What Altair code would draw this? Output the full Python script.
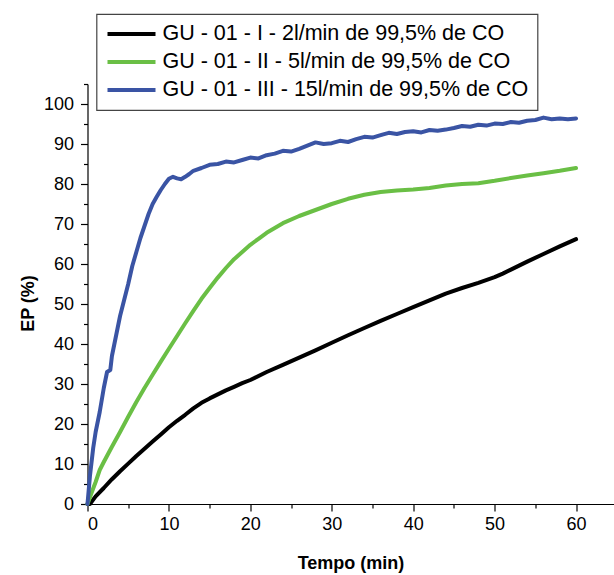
import altair as alt
import pandas as pd

LABELS = [
    "GU - 01 - I - 2l/min de 99,5% de CO",
    "GU - 01 - II - 5l/min de 99,5% de CO",
    "GU - 01 - III - 15l/min de 99,5% de CO",
]
COLORS = ["#000000", "#6abf45", "#3a54a4"]

# Serie I (2 l/min)
t_i = [0, 0.3, 1, 2, 3, 4, 5, 6, 7, 8, 9, 10, 11, 12, 13, 14, 15, 16, 17, 18, 19, 20,
       22, 24, 26, 28, 30, 32, 34, 36, 38, 40, 42, 44, 46, 48, 50, 51, 52, 54, 56, 58, 60]
ep_i = [0, 0, 1.9, 4, 6.2, 8.2, 10.1, 12, 13.8, 15.6, 17.4, 19.2, 20.8, 22.3, 23.9, 25.3, 26.4, 27.4, 28.4, 29.3, 30.2, 31,
        33, 34.8, 36.6, 38.4, 40.3, 42.2, 44, 45.8, 47.5, 49.2, 50.9, 52.6, 54, 55.3, 56.7, 57.6, 58.6, 60.6, 62.5, 64.4, 66.2]

# Serie II (5 l/min)
t_ii = [0, 0.5, 1, 1.5, 2, 3, 4, 5, 6, 7, 8, 9, 10, 11, 12, 13, 14, 15, 16, 17, 18, 19, 20,
        21, 22, 23, 24, 26, 28, 30, 32, 34, 36, 38, 40, 42, 44, 46, 48, 50, 52, 54, 56, 58, 60]
ep_ii = [0, 2.8, 5.5, 8.5, 10.5, 14.3, 18, 21.8, 25.5, 29, 32.3, 35.6, 38.8, 42, 45.2, 48.3, 51.3, 54, 56.6, 59, 61.2, 63, 64.8,
         66.3, 67.8, 69, 70.2, 72, 73.5, 75, 76.3, 77.3, 78, 78.4, 78.6, 79, 79.6, 80, 80.2, 80.8, 81.5, 82.1, 82.7, 83.3, 84]

# Serie III (15 l/min)
t_iii = [0, 0.3, 0.7, 1, 1.5, 2, 2.4, 2.8, 3, 3.5, 4, 4.5, 5, 5.5, 6, 6.5, 7, 7.5, 8, 8.5, 9, 9.5, 10,
         10.5, 11, 11.5, 12, 12.5, 13, 14, 15, 16, 17, 18, 19, 20, 21, 22, 23, 24, 25, 26, 27, 28, 29,
         30, 31, 32, 33, 34, 35, 36, 37, 38, 39, 40, 41, 42, 43, 44, 45, 46, 47, 48, 49, 50, 51, 52,
         53, 54, 55, 56, 57, 58, 59, 60]
ep_iii = [0, 7, 14, 18, 23, 29, 33, 33.5, 37, 42, 47, 51, 55, 59.5, 63, 66.5, 69.5, 72.5, 75, 76.8, 78.5, 80, 81.3,
          81.8, 81.4, 81.2, 81.8, 82.5, 83.3, 84, 84.8, 85, 85.6, 85.4, 86, 86.6, 86.4, 87.2, 87.6, 88.3, 88.1, 88.8, 89.6, 90.4, 90,
          90.2, 90.8, 90.5, 91.2, 91.8, 91.6, 92.2, 92.8, 92.5, 93, 93.2, 92.9, 93.5, 93.3, 93.6, 94, 94.5, 94.3, 94.8, 94.6, 95.1, 95, 95.5,
          95.3, 95.8, 96, 96.6, 96.2, 96.4, 96.2, 96.4]

X_MAJOR = [0, 10, 20, 30, 40, 50, 60]
X_MINOR = [5, 15, 25, 35, 45, 55]
Y_MAJOR = [0, 10, 20, 30, 40, 50, 60, 70, 80, 90, 100]
Y_MINOR = [5, 15, 25, 35, 45, 55, 65, 75, 85, 95, 105]

rows = []
for lab, ts, vs in zip(LABELS, [t_i, t_ii, t_iii], [ep_i, ep_ii, ep_iii]):
    for t, v in zip(ts, vs):
        rows.append({"serie": lab, "tempo": t, "ep": v})
df = pd.DataFrame(rows)

FONT = "Liberation Sans"
xscale = alt.Scale(domain=[0, 64.6], nice=False, zero=False)
yscale = alt.Scale(domain=[0, 105], nice=False, zero=False)

major = alt.Chart(df).mark_line(strokeWidth=4, strokeJoin="round", strokeCap="round").encode(
    x=alt.X("tempo:Q", scale=xscale,
            axis=alt.Axis(values=X_MAJOR, orient="bottom", title="Tempo (min)", tickSize=7,
                          labelPadding=4, labelFontSize=18, titleFontSize=18, titleFontWeight="bold",
                          titleBaseline="alphabetic", titleY=64, grid=False)),
    y=alt.Y("ep:Q", scale=yscale,
            axis=alt.Axis(values=Y_MAJOR, orient="left", title="EP (%)", tickSize=7,
                          labelPadding=7, labelFontSize=18, titleFontSize=18, titleFontWeight="bold",
                          titleBaseline="alphabetic", titleX=-54, titleY=219, titleAngle=-90, grid=False)),
    color=alt.Color("serie:N", sort=LABELS,
                    scale=alt.Scale(domain=LABELS, range=COLORS),
                    legend=alt.Legend(title=None, orient="none", legendX=9, legendY=-70)),
    order=alt.Order("tempo:Q"),
)

minor = alt.Chart(df).mark_line(opacity=0).encode(
    x=alt.X("tempo:Q", scale=xscale,
            axis=alt.Axis(values=X_MINOR, orient="bottom", title=None, labels=False, tickSize=4,
                          domain=False, grid=False)),
    y=alt.Y("ep:Q", scale=yscale,
            axis=alt.Axis(values=Y_MINOR, orient="left", title=None, labels=False, tickSize=4,
                          domain=False, grid=False)),
    detail="serie:N",
)

chart = (
    alt.layer(minor, major)
    .resolve_axis(x="independent", y="independent")
    .properties(width=526, height=420, autosize="none",
                padding={"left": 87.5, "top": 84, "right": 0, "bottom": 71})
    .configure_view(stroke=None)
    .configure_axis(labelFont=FONT, titleFont=FONT, labelColor="#000000", titleColor="#000000",
                    domainColor="#000000", tickColor="#000000", domainWidth=1.2, tickWidth=1.2)
    .configure_legend(labelFont=FONT, labelFontSize=21.5, labelColor="#000000", labelLimit=600,
                      symbolType="stroke", symbolSize=2304, symbolStrokeWidth=4, labelOffset=5,
                      rowPadding=6, clipHeight=22, padding=9, strokeColor="#444444",
                      fillColor="#ffffff", strokeWidth=1.2, cornerRadius=0)
)

chart.save("out.html", embed_options={"renderer": "svg", "actions": False})
